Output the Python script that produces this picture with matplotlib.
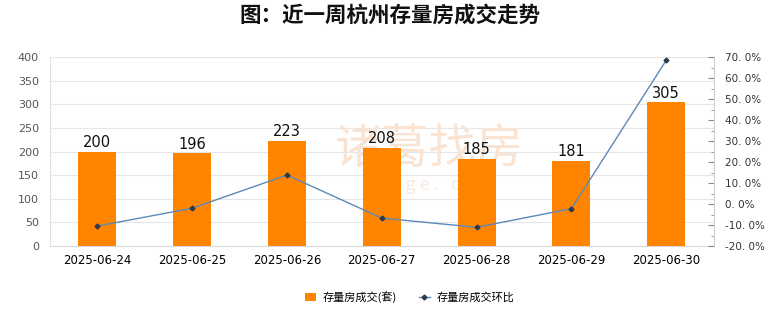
import matplotlib
matplotlib.use("Agg")
import matplotlib.pyplot as plt
from matplotlib.ticker import MultipleLocator, FuncFormatter

plt.rcParams['font.family'] = ['Noto Sans CJK SC', 'DejaVu Sans']

dates = ["2025-06-24", "2025-06-25", "2025-06-26", "2025-06-27",
         "2025-06-28", "2025-06-29", "2025-06-30"]
deals = [200, 196, 223, 208, 185, 181, 305]
mom_pct = [-10.5, -2.0, 13.8, -6.7, -11.1, -2.2, 68.5]

bar_color = "#ff8400"
line_color = "#5b8ab8"

fig = plt.figure(figsize=(7.8, 3.28), dpi=100)
fig.patch.set_facecolor("white")
ax = fig.add_axes([0.064, 0.25, 0.851, 0.576])
ax2 = ax.twinx()

x = list(range(len(dates)))

# faint watermark, kept underneath the bars
ax.text(0.55, 0.545, "诸葛找房", transform=fig.transFigure, fontsize=34,
        color="#f9e4d3", ha="center", va="center", zorder=1)
ax.text(0.55, 0.435, "z h u g e .   c o m", transform=fig.transFigure,
        fontsize=13, color="#f9e8dc", ha="center", va="center", zorder=1)

bars = ax.bar(x, deals, width=0.4, color=bar_color, zorder=2,
              label="存量房成交(套)")
for xi, v in zip(x, deals):
    ax.text(xi, v + 3, str(v), ha="center", va="bottom", fontsize=10.5,
            color="#111111", family=["DejaVu Sans"], zorder=3)

ax.set_ylim(0, 400)
ax.yaxis.set_major_locator(MultipleLocator(50))
ax.set_xlim(-0.5, len(dates) - 0.5)
ax.set_xticks(x)
ax.set_xticklabels(dates, fontsize=8.5, family=["DejaVu Sans"])
ax.tick_params(axis="x", length=0, pad=6)
ax.tick_params(axis="y", length=0, labelsize=8, colors="#555555", pad=8)
for lbl in ax.get_yticklabels():
    lbl.set_family(["DejaVu Sans"])
ax.grid(axis="y", color="#e6e6e6", linewidth=0.8, zorder=0)
ax.set_axisbelow(True)
for side in ["top", "right"]:
    ax.spines[side].set_visible(False)
ax.spines["left"].set_color("#e0e0e0")
ax.spines["bottom"].set_color("#d9d9d9")

line, = ax2.plot(x, mom_pct, color=line_color, linewidth=1.0, marker="D",
                 markersize=2.5, markerfacecolor="#2f3b47",
                 markeredgecolor="#2f3b47", zorder=4, label="存量房成交环比")
ax2.set_ylim(-20, 70)
ax2.yaxis.set_major_locator(MultipleLocator(10))
ax2.yaxis.set_minor_locator(MultipleLocator(5))
ax2.yaxis.set_major_formatter(FuncFormatter(lambda v, p: f"{v:.1f}%".replace(".", ". ")))
ax2.tick_params(axis="y", which="major", direction="in", length=4,
                color="#888888", labelsize=7.5, labelcolor="#333333", pad=8)
ax2.tick_params(axis="y", which="minor", direction="in", length=2,
                color="#888888")
for lbl in ax2.get_yticklabels():
    lbl.set_family(["DejaVu Sans"])
for side in ["top", "left", "bottom"]:
    ax2.spines[side].set_visible(False)
ax2.spines["right"].set_color("#d0d0d0")

fig.suptitle("图：近一周杭州存量房成交走势", x=0.5, y=0.985, fontsize=15.5,
             fontweight="bold", color="#111111")

handles = [bars, line]
fig.legend(handles, [h.get_label() for h in handles], loc="center",
           bbox_to_anchor=(0.525, 0.095), ncol=2, frameon=False, fontsize=8,
           handlelength=1.0, handletextpad=0.6, columnspacing=2.0)

fig.savefig("out.png", dpi=100, facecolor="white")
